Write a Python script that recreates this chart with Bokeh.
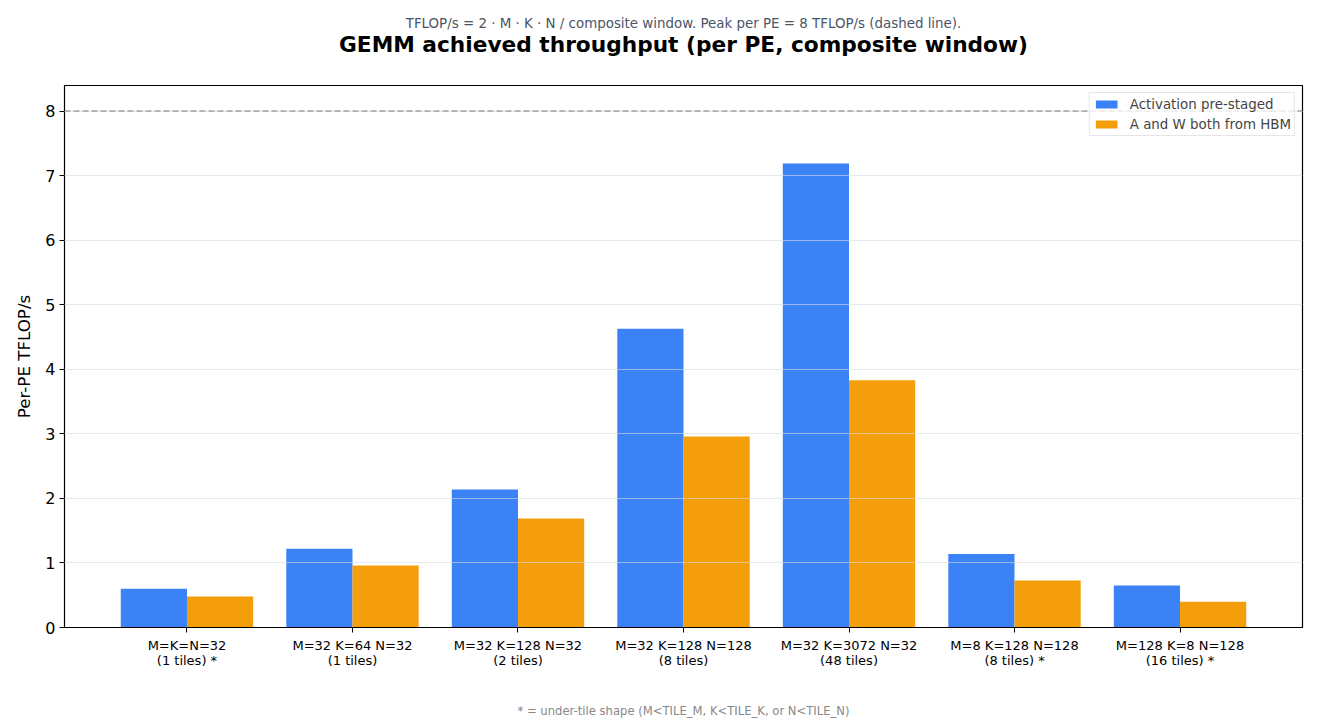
from bokeh.plotting import figure
from bokeh.models import Range1d, Span, LinearAxis, ColumnDataSource, FixedTicker
from bokeh.transform import dodge
from bokeh.embed import file_html
from bokeh.resources import INLINE

shapes = [
    "M=K=N=32\n(1 tiles) *",
    "M=32 K=64 N=32\n(1 tiles)",
    "M=32 K=128 N=32\n(2 tiles)",
    "M=32 K=128 N=128\n(8 tiles)",
    "M=32 K=3072 N=32\n(48 tiles)",
    "M=8 K=128 N=128\n(8 tiles) *",
    "M=128 K=8 N=128\n(16 tiles) *",
]
prestaged = [0.60, 1.22, 2.14, 4.63, 7.19, 1.14, 0.65]
both_hbm = [0.48, 0.96, 1.69, 2.96, 3.83, 0.73, 0.40]
peak_per_pe = 8
y_ticks = [0, 1, 2, 3, 4, 5, 6, 7, 8]

title_text = "GEMM achieved throughput (per PE, composite window)"
subtitle_text = "TFLOP/s = 2 · M · K · N / composite window. Peak per PE = 8 TFLOP/s (dashed line)."
footnote_text = "* = under-tile shape (M<TILE_M, K<TILE_K, or N<TILE_N)"

FONT = "DejaVu Sans"
BLUE = "#3b82f6"
ORANGE = "#f59e0b"

positions = list(range(len(shapes)))
src = ColumnDataSource(dict(pos=positions, shape=shapes, pre=prestaged, hbm=both_hbm))

p = figure(
    width=1320, height=720,
    x_range=Range1d(-0.74, len(shapes) - 1 + 0.74),
    y_range=Range1d(0, 8.4),
    output_backend="svg", toolbar_location=None,
    min_border_left=64, min_border_right=18, min_border_top=85, min_border_bottom=92,
)
p.title.text = ""

# grab the default axes before adding the heading axes
xa = p.xaxis[0]
ya = p.yaxis[0]

p.vbar(x=dodge("pos", -0.2), top="pre", width=0.4, source=src,
       fill_color=BLUE, line_color=None, legend_label="Activation pre-staged")
p.vbar(x=dodge("pos", 0.2), top="hbm", width=0.4, source=src,
       fill_color=ORANGE, line_color=None, legend_label="A and W both from HBM")

p.add_layout(Span(location=peak_per_pe, dimension="width", line_color="#777777",
                  line_dash="6 3", line_width=1.5))


def heading_axis(text, size, style, color, standoff):
    return LinearAxis(ticker=FixedTicker(ticks=[], minor_ticks=[]),
                      axis_label=text, axis_label_text_font=FONT,
                      axis_label_text_font_size=size, axis_label_text_font_style=style,
                      axis_label_text_color=color, axis_label_standoff=standoff,
                      axis_line_color=None, major_tick_line_color=None,
                      minor_tick_line_color=None, major_tick_out=0, major_tick_in=0,
                      minor_tick_out=0, minor_tick_in=0, major_label_standoff=0)


# main title nearest the frame, subtitle above it
p.add_layout(heading_axis(title_text, "21.7px", "bold", "black", 29), "above")
try:
    sub_ax = heading_axis(subtitle_text, "13.4px", "normal", "#4a5568", -2)
except Exception:
    sub_ax = heading_axis(subtitle_text, "13.4px", "normal", "#4a5568", 0)
p.add_layout(sub_ax, "above")

# bottom x axis (footnote as its label)
xa.ticker = FixedTicker(ticks=positions, minor_ticks=[])
xa.major_label_overrides = {i: s for i, s in zip(positions, shapes)}
xa.major_label_text_font = FONT
xa.major_label_text_font_size = "13px"
xa.major_label_text_line_height = 1.0
xa.major_label_text_color = "black"
xa.major_tick_out = 5
xa.major_tick_in = 0
xa.minor_tick_line_color = None
xa.axis_line_color = "black"
xa.major_tick_line_color = "black"
xa.major_label_standoff = 5
xa.axis_label = footnote_text
xa.axis_label_text_font = FONT
xa.axis_label_text_font_size = "11.6px"
xa.axis_label_text_font_style = "normal"
xa.axis_label_text_color = "#888888"
xa.axis_label_standoff = 33

ya.ticker = FixedTicker(ticks=y_ticks, minor_ticks=[])
ya.axis_label = "Per-PE TFLOP/s"
ya.axis_label_text_font = FONT
ya.axis_label_text_font_size = "16.7px"
ya.axis_label_text_font_style = "normal"
ya.axis_label_text_color = "black"
ya.axis_label_standoff = 8
ya.major_label_text_font = FONT
ya.major_label_text_font_size = "16px"
ya.major_label_text_color = "black"
ya.major_tick_out = 5
ya.major_tick_in = 0
ya.minor_tick_line_color = None
ya.axis_line_color = "black"
ya.major_tick_line_color = "black"
ya.major_label_standoff = 4

p.xgrid.grid_line_color = None
p.ygrid.ticker = FixedTicker(ticks=y_ticks, minor_ticks=[])
p.ygrid.grid_line_color = "#d8d8d8"
p.ygrid.grid_line_alpha = 0.6
p.ygrid.level = "overlay"

p.outline_line_color = "black"
p.outline_line_alpha = 1
p.outline_line_width = 1.2

# legend
lg = p.legend[0]
lg.location = "top_right"
lg.margin = 7
lg.padding = 3
lg.spacing = 4
lg.label_text_font = FONT
lg.label_text_font_size = "13.4px"
lg.label_height = 16
lg.glyph_height = 10
lg.glyph_width = 27
lg.label_standoff = 10
lg.border_line_color = "#cccccc"
lg.border_line_width = 1
lg.background_fill_alpha = 0.8

open("out.html", "w").write(file_html(p, INLINE))
